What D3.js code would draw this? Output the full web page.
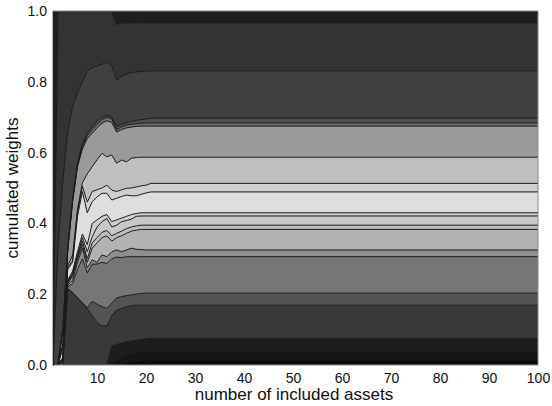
<!DOCTYPE html>
<html>
<head>
<meta charset="utf-8">
<script src="https://cdn.jsdelivr.net/npm/d3@7"></script>
<style>
  html, body { margin: 0; padding: 0; background: #ffffff; }
  svg { display: block; }
  text { font-family: "Liberation Sans", Arial, Helvetica, sans-serif; fill: #111; }
</style>
</head>
<body>
<svg id="chart" width="552" height="406"></svg>
<script>
// number of included assets (x); after n = 21 the weights stay constant up to n = 100
const nIncluded = [1,2,3,4,5,6,7,8,9,10,11,12,13,14,15,16,17,18,19,20,21,100];

// cumulated weights (upper boundary of each stacked asset band), bottom to top
const cum01 = [0,0,0,0,0,0,0,0,0,0,0,0,0,0,0,.008,.011,.013,.014,.014,.014,.014];
const cum02 = [0,0,0,0,0,0,0,0,0,0,0,0,.008,.014,.02,.028,.034,.037,.038,.038,.038,.038];
const cum03 = [0,0,0,0,0,0,0,0,0,0,0,0,.054,.058,.062,.066,.068,.07,.072,.074,.075,.075];
const cum04 = [0,0,0,.215,.205,.19,.175,.16,.14,.12,.11,.11,.14,.155,.16,.165,.168,.169,.169,.169,.169,.169];
const cum05 = [0,0,0,.215,.205,.19,.175,.162,.18,.172,.165,.16,.175,.19,.193,.196,.198,.2,.202,.203,.203,.203];
const cum06 = [0,0,.01,.22,.23,.27,.3,.26,.285,.285,.29,.287,.3,.305,.303,.306,.306,.306,.306,.306,.306,.306];
const cum07 = [0,0,.01,.225,.24,.29,.33,.275,.297,.29,.311,.306,.32,.325,.32,.325,.33,.327,.326,.325,.325,.325];
const cum08 = [0,0,.015,.23,.25,.3,.34,.29,.33,.345,.36,.365,.35,.36,.365,.372,.378,.381,.383,.383,.383,.383];
const cum09 = [0,0,.015,.232,.255,.305,.35,.3,.345,.36,.375,.38,.365,.372,.378,.385,.39,.393,.395,.395,.395,.395];
const cum10 = [0,0,.02,.235,.26,.31,.36,.32,.362,.39,.405,.414,.39,.395,.405,.408,.412,.42,.421,.421,.421,.421];
const cum11 = [0,0,.02,.24,.265,.32,.37,.34,.4,.41,.42,.425,.405,.41,.415,.42,.425,.428,.43,.43,.43,.43];
const cum12 = [0,0,.05,.27,.29,.42,.49,.43,.461,.475,.485,.485,.466,.471,.476,.48,.478,.478,.482,.486,.489,.489];
const cum13 = [0,0,.05,.275,.295,.43,.505,.46,.49,.495,.5,.508,.494,.49,.495,.499,.5,.503,.506,.508,.513,.513];
const cum14 = [0,0,.06,.28,.31,.44,.515,.54,.56,.58,.598,.588,.593,.57,.579,.574,.584,.586,.587,.587,.587,.587];
const cum15 = [0,0,.1,.32,.46,.56,.61,.64,.655,.67,.683,.69,.685,.658,.665,.67,.672,.674,.675,.675,.675,.675];
const cum16 = [0,0,.1,.325,.465,.565,.618,.648,.665,.68,.693,.7,.695,.665,.673,.678,.68,.682,.683,.684,.684,.684];
const cum17 = [0,0,.1,.33,.47,.57,.625,.655,.673,.69,.7,.706,.7,.675,.68,.685,.688,.691,.693,.695,.697,.697];
const cum18 = [0,.33,.52,.66,.73,.77,.8,.83,.84,.845,.85,.855,.845,.805,.815,.822,.826,.828,.829,.83,.831,.831];
const cum19 = [0,1,1,1,1,1,1,1,1,1,1,1,1,.962,.965,.967,.967,.967,.967,.967,.967,.967];

// grey level of each asset band, bottom to top
const bandColors = ["#0b0b0b","#151515","#1d1d1d","#393939","#545454","#767676","#8e8e8e",
  "#b2b2b2","#bdbdbd","#c8c8c8","#cfcfcf","#dedede","#d0d0d0","#bfbfbf","#9a9a9a",
  "#6e6e6e","#505050","#404040","#333333","#1f1f1f"];

const xTicks = [10,20,30,40,50,60,70,80,90,100];
const yTicks = [0,0.2,0.4,0.6,0.8,1.0];
const xTitle = "number of included assets";
const yTitle = "cumulated weights";

const W = 552, H = 406;
const m = {left: 53, right: 14, top: 11, bottom: 41};
const svg = d3.select("#chart");

const x = d3.scaleLinear().domain([1,100]).range([m.left, W - m.right]);
const y = d3.scaleLinear().domain([0,1]).range([H - m.bottom, m.top]);

const floor = nIncluded.map(() => 0);
const ceil = nIncluded.map(() => 1);
const bounds = [floor, cum01, cum02, cum03, cum04, cum05, cum06, cum07, cum08, cum09, cum10,
  cum11, cum12, cum13, cum14, cum15, cum16, cum17, cum18, cum19, ceil];

const g = svg.append("g");
g.append("clipPath").attr("id","plotclip").append("rect")
  .attr("x", m.left).attr("y", m.top)
  .attr("width", W - m.right - m.left).attr("height", H - m.bottom - m.top);
const plot = g.append("g").attr("clip-path","url(#plotclip)");

for (let i = 1; i < bounds.length; i++) {
  const lo = bounds[i-1], hi = bounds[i];
  const pts = nIncluded.map((n, j) => ({n, lo: lo[j], hi: hi[j]}));
  const area = d3.area().x(d => x(d.n)).y0(d => y(d.lo)).y1(d => y(d.hi));
  plot.append("path").datum(pts).attr("d", area)
    .attr("fill", bandColors[i-1]).attr("stroke", bandColors[i-1]).attr("stroke-width", 0.3);
}
for (let i = 1; i < bounds.length - 1; i++) {
  const pts = nIncluded.map((n, j) => ({n, v: bounds[i][j]}));
  const line = d3.line().x(d => x(d.n)).y(d => y(d.v));
  plot.append("path").datum(pts).attr("d", line)
    .attr("fill", "none").attr("stroke", "#1a1a1a").attr("stroke-width", 1)
    .attr("stroke-linejoin", "round");
}

// frame
g.append("rect").attr("x", m.left).attr("y", m.top)
  .attr("width", W - m.right - m.left).attr("height", H - m.bottom - m.top)
  .attr("fill", "none").attr("stroke", "#8a8a8a").attr("stroke-width", 1);

const xAxis = g.append("g").attr("transform", `translate(0,${H - m.bottom})`)
  .call(d3.axisBottom(x).tickValues(xTicks).tickSize(0).tickPadding(8).tickFormat(d3.format("d")));
const yAxis = g.append("g").attr("transform", `translate(${m.left},0)`)
  .call(d3.axisLeft(y).tickValues(yTicks).tickSize(0).tickPadding(6).tickFormat(d3.format(".1f")));
[xAxis, yAxis].forEach(a => {
  a.select(".domain").attr("stroke", "#222").attr("stroke-width", 1.2);
  a.selectAll("text").style("font-size", "14px").style("font-family", '"Liberation Sans", Arial, sans-serif').attr("fill", "#111");
});
xAxis.select(".domain").remove();

svg.append("text").attr("x", 294).attr("y", 400)
  .attr("text-anchor", "middle").style("font-size", "17px").text(xTitle);
svg.append("text").attr("transform", `translate(18,${(m.top + H - m.bottom) / 2}) rotate(-90)`)
  .attr("text-anchor", "middle").style("font-size", "17px").text(yTitle);
</script>
</body>
</html>
